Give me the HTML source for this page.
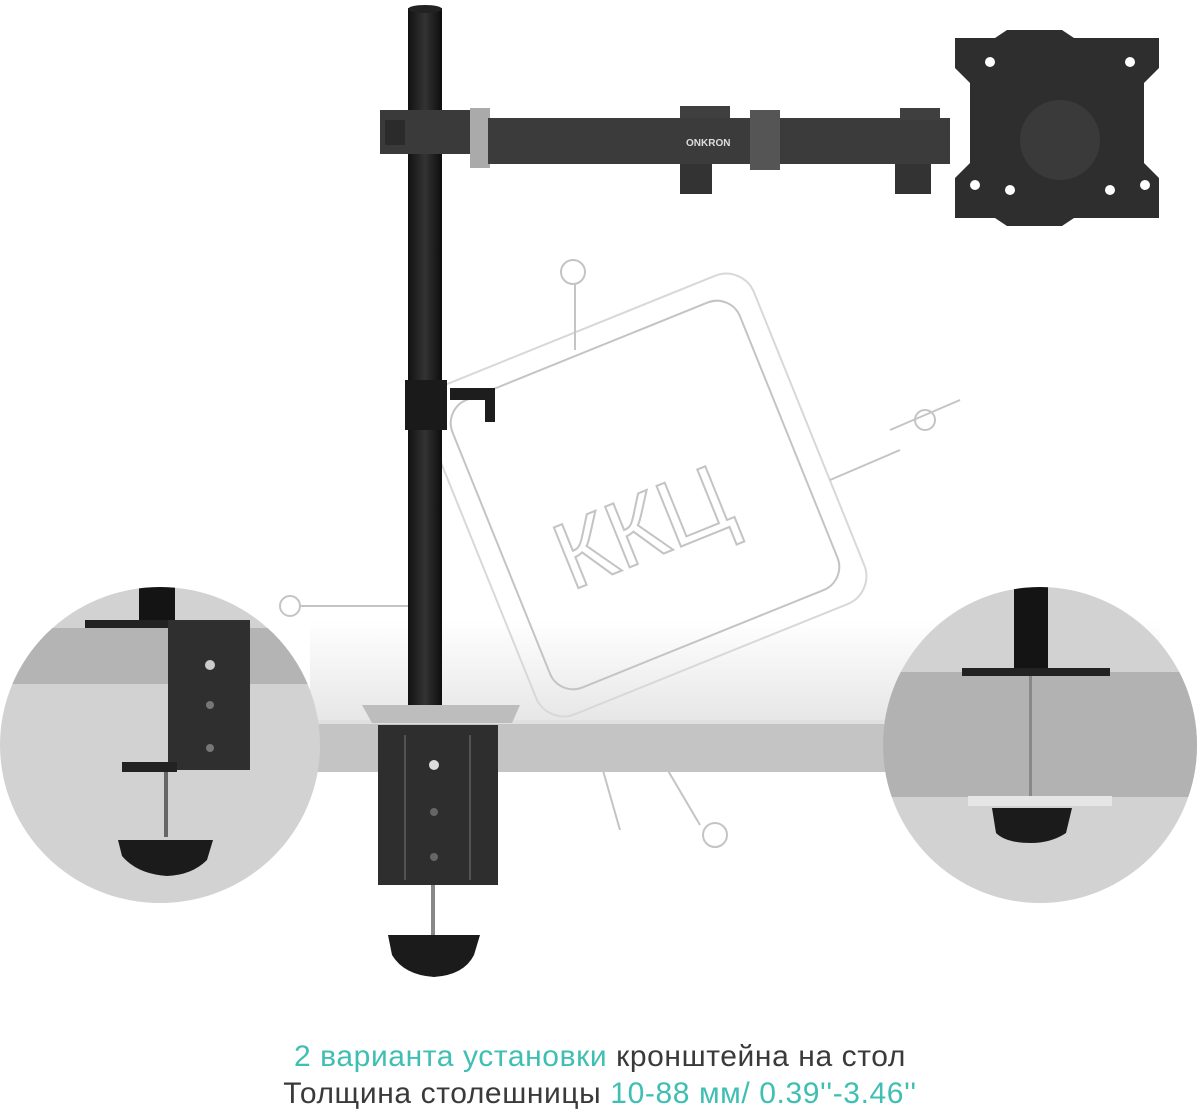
<!DOCTYPE html>
<html><head><meta charset="utf-8"><style>
html,body{margin:0;padding:0;background:#fff;width:1200px;height:1114px;overflow:hidden}
.t{position:absolute;left:0;width:1200px;text-align:center;font-family:"Liberation Sans",sans-serif;font-size:30px;color:#3a3a3a;letter-spacing:0.6px}
.c{color:#3fbfb3}
</style></head><body>
<svg width="1200" height="1114" style="position:absolute;left:0;top:0">
<defs>
<linearGradient id="desk" x1="0" y1="0" x2="0" y2="1"><stop offset="0" stop-color="#fff"/><stop offset="1" stop-color="#e6e6e6"/></linearGradient>
<linearGradient id="pole" x1="0" x2="1"><stop offset="0" stop-color="#111"/><stop offset="0.5" stop-color="#333"/><stop offset="1" stop-color="#0d0d0d"/></linearGradient>
<clipPath id="lc"><ellipse cx="160" cy="745" rx="160" ry="158"/></clipPath>
<clipPath id="rc"><ellipse cx="1040" cy="745" rx="157" ry="158"/></clipPath>
</defs>
<rect x="310" y="620" width="850" height="102" fill="url(#desk)"/>
<rect x="310" y="720" width="850" height="52" fill="#c4c4c4"/>
<rect x="310" y="720" width="850" height="4" fill="#e0e0e0"/>
<g fill="none" stroke="#c4c4c4" stroke-width="2">
<rect x="490" y="340" width="310" height="310" rx="25" transform="rotate(-22 645 495)"/>
<rect x="468" y="318" width="354" height="354" rx="30" transform="rotate(-22 645 495)" stroke="#d8d8d8"/>
<line x1="575" y1="285" x2="575" y2="350"/><circle cx="573" cy="272" r="12"/>
<line x1="300" y1="606" x2="430" y2="606"/><circle cx="290" cy="606" r="10"/>
<line x1="600" y1="760" x2="620" y2="830"/><circle cx="715" cy="835" r="12"/>
<line x1="650" y1="740" x2="700" y2="825"/>
<line x1="890" y1="430" x2="960" y2="400"/><circle cx="925" cy="420" r="10"/>
<line x1="830" y1="480" x2="900" y2="450"/>
</g>
<text x="640" y="560" font-family="Liberation Sans,sans-serif" font-size="95" fill="none" stroke="#c4c4c4" stroke-width="2" transform="rotate(-22 640 520)" text-anchor="middle">ККЦ</text>
<rect x="408" y="8" width="34" height="710" fill="url(#pole)"/>
<ellipse cx="425" cy="9" rx="17" ry="4" fill="#222"/>
<rect x="405" y="380" width="42" height="50" fill="#1a1a1a"/>
<path d="M450 388 h45 v34 h-10 v-22 h-35z" fill="#1d1d1d"/>
<rect x="380" y="110" width="90" height="44" fill="#3a3a3a"/>
<rect x="385" y="120" width="20" height="25" fill="#2b2b2b"/>
<rect x="470" y="108" width="20" height="60" fill="#aaa"/>
<rect x="488" y="118" width="270" height="46" fill="#3b3b3b"/>
<rect x="680" y="106" width="50" height="12" fill="#3f3f3f"/>
<rect x="680" y="164" width="32" height="30" fill="#333"/>
<rect x="750" y="110" width="30" height="60" fill="#555"/>
<rect x="780" y="118" width="170" height="46" fill="#3b3b3b"/>
<rect x="895" y="164" width="36" height="30" fill="#333"/>
<rect x="900" y="108" width="40" height="12" fill="#3f3f3f"/>
<text x="686" y="146" font-family="Liberation Sans,sans-serif" font-size="10" fill="#ddd" font-weight="bold">ONKRON</text>
<path d="M955 38 h40 l12 -8 h55 l12 8 h85 v30 l-15 15 v80 l15 15 v40 h-85 l-12 8 h-55 l-12 -8 h-40 v-40 l15 -15 v-80 l-15 -15z" fill="#2e2e2e"/>
<circle cx="1060" cy="140" r="40" fill="#3a3a3a"/>
<circle cx="975" cy="185" r="5" fill="#fff"/><circle cx="1145" cy="185" r="5" fill="#fff"/>
<circle cx="1010" cy="190" r="5" fill="#fff"/><circle cx="1110" cy="190" r="5" fill="#fff"/>
<circle cx="990" cy="62" r="5" fill="#fff"/><circle cx="1130" cy="62" r="5" fill="#fff"/>
<path d="M362 705 h158 l-8 18 h-140z" fill="#bdbdbd"/>
<rect x="378" y="725" width="120" height="160" fill="#2e2e2e"/>
<line x1="405" y1="735" x2="405" y2="880" stroke="#777"/><line x1="470" y1="735" x2="470" y2="880" stroke="#777"/>
<circle cx="434" cy="765" r="5" fill="#ddd"/><circle cx="434" cy="812" r="4" fill="#666"/><circle cx="434" cy="857" r="4" fill="#666"/>
<rect x="431" y="885" width="4" height="50" fill="#888"/>
<path d="M388 935 h92 l-6 20 q-10 20 -40 22 q-30 -2 -42 -22z" fill="#1b1b1b"/>
<g clip-path="url(#lc)">
<rect x="0" y="585" width="320" height="320" fill="#d2d2d2"/>
<rect x="0" y="628" width="320" height="56" fill="#b4b4b4"/>
<rect x="139" y="587" width="36" height="40" fill="#141414"/>
<rect x="85" y="620" width="165" height="8" fill="#222"/>
<rect x="168" y="620" width="82" height="150" fill="#2f2f2f"/>
<rect x="122" y="762" width="55" height="10" fill="#222"/>
<circle cx="210" cy="665" r="5" fill="#ccc"/><circle cx="210" cy="705" r="4" fill="#777"/><circle cx="210" cy="748" r="4" fill="#777"/>
<rect x="164" y="772" width="4" height="65" fill="#666"/>
<path d="M118 840 h95 l-6 20 q-15 15 -40 16 q-30 -2 -45 -20z" fill="#1b1b1b"/>
</g>
<g clip-path="url(#rc)">
<rect x="880" y="585" width="320" height="320" fill="#d2d2d2"/>
<rect x="880" y="672" width="320" height="125" fill="#b2b2b2"/>
<rect x="1014" y="587" width="34" height="82" fill="#141414"/>
<rect x="962" y="668" width="148" height="8" fill="#222"/>
<rect x="1029" y="676" width="3" height="120" fill="#888"/>
<rect x="968" y="796" width="144" height="10" fill="#e6e6e6"/>
<path d="M992 808 h80 l-6 25 q-15 10 -35 10 q-25 0 -35 -10z" fill="#1b1b1b"/>
</g>
</svg>
<div class="t" style="top:1040px"><span class="c">2 варианта установки</span> кронштейна на стол</div>
<div class="t" style="top:1077px">Толщина столешницы <span class="c">10-88 мм/ 0.39''-3.46''</span></div>
</body></html>
